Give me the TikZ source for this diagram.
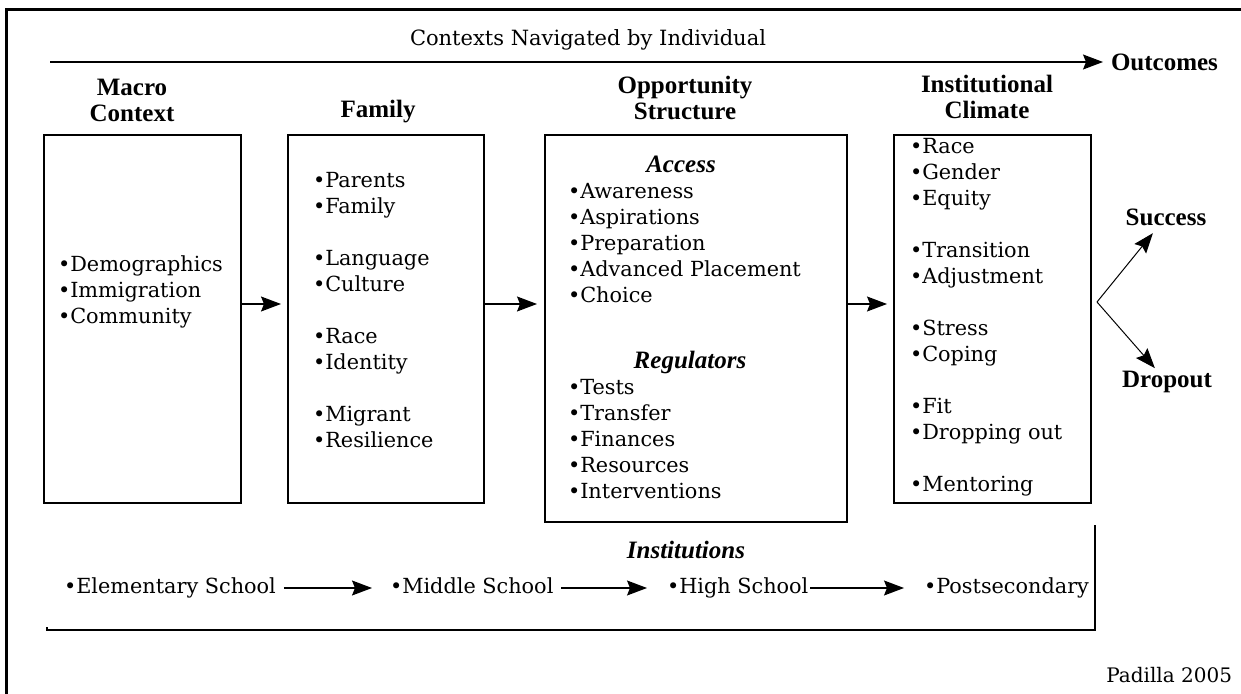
\documentclass[tikz,border=0pt]{standalone}
\usepackage{fontspec}
\setmainfont{DejaVu Serif}
\newfontfamily\headfont{Liberation Serif}
\usetikzlibrary{arrows.meta}

\begin{document}
\begin{tikzpicture}[
		x=0.5pt, y=-0.5pt,
		every node/.style={inner sep=0pt, outer sep=0pt},
		box/.style={draw, line width=0.8pt},
		item/.style={anchor=west, font=\fontsize{10.4}{12}\selectfont, text height=7.5pt, text depth=2pt},
		head/.style={font=\headfont\bfseries\fontsize{12.5}{13}\selectfont, align=center},
		subhead/.style={font=\headfont\bfseries\itshape\fontsize{12.5}{13}\selectfont, text height=8.5pt, text depth=2.5pt},
		flow/.style={-{Stealth[length=10pt, width=7.5pt, inset=1.5pt]}, line width=0.6pt}
	]
  \useasboundingbox (0,0) rectangle (1241,694);
  \draw [line width=1.5pt] (6,694) -- (6,10) -- (1241,10);

  \node (navigated) [font=\fontsize{10.5}{12}\selectfont] at (588, 40) {Contexts Navigated by Individual};
  \node (outcomes) [head, anchor=west] at (1111, 62) {Outcomes};
  \coordinate (nav_start) at (50, 62);
  \draw [flow, shorten >=4pt] (nav_start) -- (outcomes);

  \node (macro_head) [head] at (132, 100) {Macro\\Context};
  \node (fam_head) [head] at (378, 112) {Family};
  \node (opp_head) [head] at (685, 98) {Opportunity\\Structure};
  \node (clim_head) [head] at (987, 97) {Institutional\\Climate};

  \node (macro_box) [box, minimum width=98.5pt, minimum height=184pt] at (142.5, 319) {};
  \node (fam_box) [box, minimum width=98pt, minimum height=184pt] at (386, 319) {};
  \node (opp_box) [box, minimum width=151pt, minimum height=193.5pt] at (696, 328.5) {};
  \node (clim_box) [box, minimum width=98.5pt, minimum height=184pt] at (992.5, 319) {};

  \foreach \y/\t [count=\i] in {266/Demographics, 292/Immigration, 318/Community}
    \node (macro_\i) [item] at (58, \y) {\textbullet\t};
  \foreach \y/\t [count=\i] in {182/Parents, 208/Family, 260/Language, 286/Culture,
      338/Race, 364/Identity, 416/Migrant, 442/Resilience}
    \node (fam_\i) [item] at (313, \y) {\textbullet\t};
  \node (access) [subhead] at (681, 167) {Access};
  \foreach \y/\t [count=\i] in {193/Awareness, 219/Aspirations, 245/Preparation,
      271/Advanced Placement, 297/Choice}
    \node (acc_\i) [item] at (568, \y) {\textbullet\t};
  \node (regulators) [subhead] at (690, 363) {Regulators};
  \foreach \y/\t [count=\i] in {389/Tests, 415/Transfer, 441/Finances, 467/Resources,
      493/Interventions}
    \node (reg_\i) [item] at (568, \y) {\textbullet\t};
  \foreach \y/\t [count=\i] in {148/Race, 174/Gender, 200/Equity, 252/Transition,
      278/Adjustment, 330/Stress, 356/Coping, 408/Fit, 434/Dropping out, 486/Mentoring}
    \node (clim_\i) [item] at (910, \y) {\textbullet\t};

  \coordinate (mid) at (0, 304);
  \draw [flow] (macro_box.east |- mid) -- ([xshift=-3.5pt]fam_box.west |- mid);
  \draw [flow] (fam_box.east |- mid) -- ([xshift=-4pt]opp_box.west |- mid);
  \draw [flow] (opp_box.east |- mid) -- ([xshift=-3.5pt]clim_box.west |- mid);

  \node (success) [head] at (1166, 217) {Success};
  \node (dropout) [head] at (1167, 382) {Dropout};
  \coordinate (fork) at (1097, 302);
  \draw [flow, line width=0.5pt, shorten >=5pt] (fork) -- (success);
  \draw [flow, line width=0.5pt, shorten >=2pt] (fork) -- (dropout);

  \node (institutions) [subhead] at (686, 552) {Institutions};
  \node (elem) [item] at (64, 588) {\textbullet Elementary School};
  \node (middle) [item] at (390, 588) {\textbullet Middle School};
  \node (high) [item] at (667, 588) {\textbullet High School};
  \node (post) [item] at (924, 588) {\textbullet Postsecondary};
  \draw [flow, shorten <=4pt, shorten >=9pt] (elem) -- (middle);
  \draw [flow, shorten <=4pt, shorten >=10pt] (middle) -- (high);
  \draw [flow, shorten <=1pt, shorten >=10pt] (high) -- (post);
  \draw [line width=0.8pt] (47,627) -- (47,630) -- (1095,630) -- (1095,525);

  \node (padilla) [font=\fontsize{10}{12}\selectfont, anchor=east] at (1232, 675) {Padilla 2005};
\end{tikzpicture}
\end{document}
